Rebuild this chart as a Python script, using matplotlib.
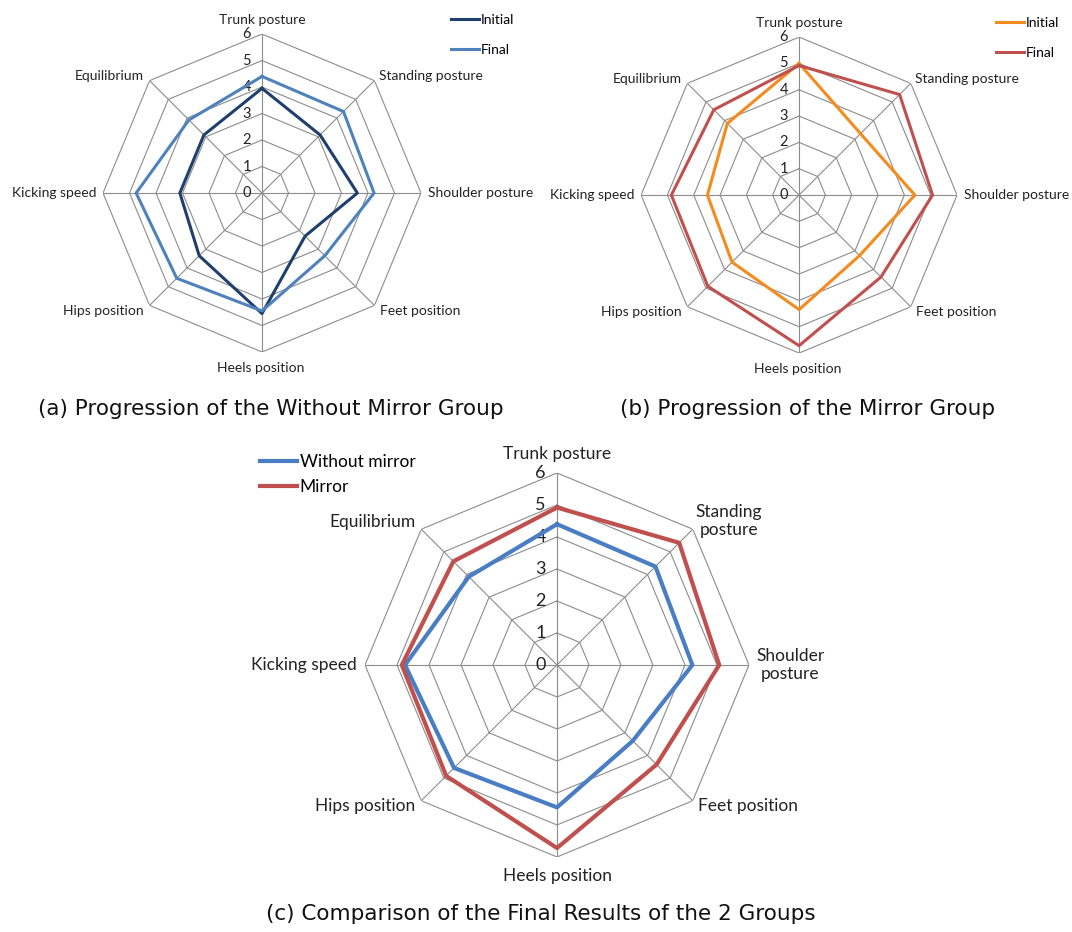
import numpy as np
import matplotlib.pyplot as plt

plt.rcParams['font.family'] = ['Lato', 'DejaVu Sans']

categories = ['Trunk posture', 'Standing posture', 'Shoulder posture', 'Feet position',
              'Heels position', 'Hips position', 'Kicking speed', 'Equilibrium']
categories_c = ['Trunk posture', 'Standing\nposture', 'Shoulder\nposture', 'Feet position',
                'Heels position', 'Hips position', 'Kicking speed', 'Equilibrium']

nomirror_initial = [3.95, 3.1, 3.6, 2.3, 4.55, 3.35, 3.1, 3.1]
nomirror_final = [4.4, 4.35, 4.23, 3.35, 4.45, 4.55, 4.75, 3.9]
mirror_initial = [5.0, 3.3, 4.4, 3.25, 4.35, 3.6, 3.48, 3.85]
mirror_final = [4.92, 5.4, 5.07, 4.4, 5.72, 4.9, 4.85, 4.58]

ticks = [0, 1, 2, 3, 4, 5, 6]

# label placement: (ha, va, dx, dy) in points from the outer vertex
lab_pos = [('center', 'bottom', 0, 6), ('left', 'center', 3, 3), ('left', 'center', 5, 0),
           ('left', 'center', 4, -4), ('center', 'top', -1, -7), ('right', 'center', -4, -4),
           ('right', 'center', -5, 0), ('right', 'center', -4, 3)]
lab_pos_c = [('center', 'bottom', 0, 8), ('left', 'center', 2, 6), ('left', 'center', 5, 0),
             ('left', 'center', 4, -4), ('center', 'top', 0, -8), ('right', 'center', -4, -4),
             ('right', 'center', -6, 0), ('right', 'center', -4, 5)]


def radar(ax, labels, positions, series, colors, names, lw, fs, tfs):
    n = len(labels)
    theta = np.arange(n) * 2 * np.pi / n
    ax.set_theta_zero_location('N')
    ax.set_theta_direction(-1)
    ax.set_ylim(0, 6)
    ax.set_xticks([])
    ax.set_yticks([])
    ax.grid(False)
    ax.spines['polar'].set_visible(False)
    ax.patch.set_visible(False)
    closed = np.append(theta, theta[0])
    for r in ticks[1:]:
        ax.plot(closed, [r] * (n + 1), color='#8c8c8c', lw=0.8, zorder=1)
    for t in theta:
        ax.plot([t, t], [0, 6], color='#8c8c8c', lw=0.8, zorder=1)
    for r in ticks:
        ax.annotate(str(r), xy=(0, r), xytext=(-8, 0), textcoords='offset points',
                    ha='right', va='center', fontsize=tfs, color='#222222', zorder=2)
    for t, lab, (ha, va, dx, dy) in zip(theta, labels, positions):
        ax.annotate(lab, xy=(t, 6), xytext=(dx, dy), textcoords='offset points',
                    ha=ha, va=va, multialignment='center', fontsize=fs, color='#222222')
    for vals, c, name in zip(series, colors, names):
        ax.plot(closed, vals + vals[:1], color=c, lw=lw, label=name, zorder=3)


fig = plt.figure(figsize=(10.72, 9.32), dpi=100)

ax1 = fig.add_axes([0.0961, 0.6223, 0.2966, 0.3412], projection='polar')
radar(ax1, categories, lab_pos, [nomirror_initial, nomirror_final],
      ['#1f3f6e', '#4f81bd'], ['Initial', 'Final'], 2.2, 10, 10.5)
ax1.legend(loc='upper left', bbox_to_anchor=(0.421, 0.985), bbox_transform=fig.transFigure,
           frameon=False, fontsize=10, handlelength=2.0, handletextpad=0.15,
           labelspacing=1.3, borderpad=0, borderaxespad=0)

ax2 = fig.add_axes([0.598, 0.6212, 0.2948, 0.339], projection='polar')
radar(ax2, categories, lab_pos, [mirror_initial, mirror_final],
      ['#f58b1f', '#c0504d'], ['Initial', 'Final'], 2.2, 10, 10.5)
ax2.legend(loc='upper left', bbox_to_anchor=(0.929, 0.982), bbox_transform=fig.transFigure,
           frameon=False, fontsize=10, handlelength=2.0, handletextpad=0.15,
           labelspacing=1.3, borderpad=0, borderaxespad=0)

ax3 = fig.add_axes([0.3405, 0.0805, 0.3582, 0.412], projection='polar')
radar(ax3, categories_c, lab_pos_c, [nomirror_final, mirror_final],
      ['#4a7ec4', '#c0504d'], ['Without mirror', 'Mirror'], 3.0, 12.5, 13)
ax3.legend(loc='upper left', bbox_to_anchor=(0.243, 0.513), bbox_transform=fig.transFigure,
           frameon=False, fontsize=12.5, handlelength=2.1, handletextpad=0.15,
           labelspacing=0.55, borderpad=0, borderaxespad=0)

cap = dict(fontsize=15.5, family=['DejaVu Sans'], ha='center', va='center',
           color='#111111')
fig.text(271 / 1072, 1 - 409 / 932, '(a) Progression of the Without Mirror Group', **cap)
fig.text(808 / 1072, 1 - 409 / 932, '(b) Progression of the Mirror Group', **cap)
fig.text(541 / 1072, 1 - 914 / 932, '(c) Comparison of the Final Results of the 2 Groups', **cap)

fig.savefig('out.png', dpi=100, facecolor='white')
